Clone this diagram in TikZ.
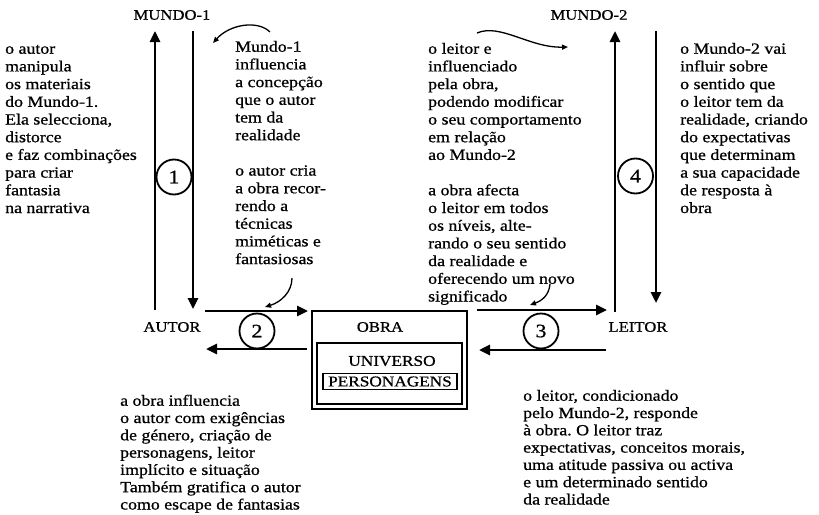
\documentclass[tikz,border=0pt]{standalone}
\usepackage{fontspec}
\setmainfont{Liberation Serif}[FakeStretch=1.15, FakeBold=0.8]
\usetikzlibrary{arrows.meta}
\frenchspacing
\begin{document}
\begin{tikzpicture}[x=1pt,y=-1pt,
  txt/.style={anchor=north west, inner sep=0pt, align=left, font=\fontsize{15.5}{17.7}\selectfont},
  txtb/.style={anchor=north west, inner sep=0pt, align=left, font=\fontsize{15.5}{17.3}\selectfont},
  lab/.style={inner sep=0pt, font=\fontsize{14.5}{17}\selectfont},
  bigarrow/.style={line width=2.6pt, -{Triangle[length=11pt,width=10pt]}},
  curvearrow/.style={line width=1.3pt, -{Triangle[length=6pt,width=5pt]}},
  circ/.style={circle, draw, line width=1.8pt, minimum size=35pt, inner sep=0pt, font=\fontsize{19}{19}\selectfont},
  boxo/.style={draw, line width=1.4pt, inner sep=0pt}
]
\useasboundingbox (0,0) rectangle (819,514);

% labels
\node[lab] (m1) at (172,15) {MUNDO-1};
\node[lab] (m2) at (589,15) {MUNDO-2};
\node[lab] (autor) at (172,327) {AUTOR};
\node[lab] (leitor) at (638,327) {LEITOR};

% OBRA box
\node[boxo, minimum width=155pt, minimum height=98pt] (obra) at (389.5,360) {};
\node[lab] (obralab) at (380,327) {OBRA};
\node[boxo, minimum width=145pt, minimum height=61pt] (univ) at (389.5,373.5) {};
\node[lab, font=\fontsize{15}{17}\selectfont] (univlab) at (392,361) {UNIVERSO};
\node[boxo, line width=1.2pt, minimum width=134pt, minimum height=16pt, font=\fontsize{15}{17}\selectfont] (pers) at (390,381.5) {PERSONAGENS};

% coordinates for arrow ends
\coordinate (l1b) at (155,310);
\coordinate (l1t) at (155,31);
\coordinate (r1t) at (193,31);
\coordinate (r1b) at (193,309);
\coordinate (l2b) at (615,312);
\coordinate (l2t) at (615,31);
\coordinate (r2t) at (656,31);
\coordinate (r2b) at (656,303);
\coordinate (aos) at (205,311);
\coordinate (aoe) at (308,311);
\coordinate (oas) at (307,349);
\coordinate (oae) at (206,349);
\coordinate (ols) at (477,310);
\coordinate (ole) at (607,310);
\coordinate (los) at (606,350);
\coordinate (loe) at (479,350);

% vertical arrows
\draw[bigarrow] (l1b) -- (l1t);
\draw[bigarrow] (r1t) -- (r1b);
\draw[bigarrow] (l2b) -- (l2t);
\draw[bigarrow] (r2t) -- (r2b);
% horizontal arrows
\draw[bigarrow] (aos) -- (aoe);
\draw[bigarrow] (oas) -- (oae);
\draw[bigarrow] (ols) -- (ole);
\draw[bigarrow] (los) -- (loe);

% circles
\node[circ, fill=white] (n1) at (174,177) {1};
\node[circ, fill=white] (n2) at (257,331) {2};
\node[circ, fill=white] (n3) at (541,331) {3};
\node[circ, fill=white] (n4) at (635.5,176) {4};

% curved arrows
\coordinate (c1s) at (270,32);
\coordinate (c1e) at (213,43);
\draw[curvearrow] (c1s) .. controls (258,20) and (230,24) .. (c1e);
\coordinate (c2s) at (292,278);
\coordinate (c2e) at (265,307);
\draw[curvearrow] (c2s) .. controls (292,292) and (281,302) .. (c2e);
\coordinate (c3s) at (477,33);
\coordinate (c3e) at (568,47);
\draw[curvearrow] (c3s) .. controls (500,23) and (530,48) .. (c3e);
\coordinate (c4s) at (550,284);
\coordinate (c4e) at (530,305);
\draw[curvearrow] (c4s) .. controls (549,296) and (541,301) .. (c4e);

% text blocks
\node[txt] (t1) at (5,41.5) {\rule{0pt}{12pt}o autor\\ manipula\\ os materiais\\ do Mundo-1.\\ Ela selecciona,\\ distorce\\ e faz combinações\\ para criar\\ fantasia\\ na narrativa};
\node[txt] (t2) at (235,39.5) {\rule{0pt}{12pt}Mundo-1\\ influencia\\ a concepção\\ que o autor\\ tem da\\ realidade\\[17.7pt] o autor cria\\ a obra recor-\\ rendo a\\ técnicas\\ miméticas e\\ fantasiosas};
\node[txt] (t3) at (428,41.5) {\rule{0pt}{12pt}o leitor e\\ influenciado\\ pela obra,\\ podendo modificar\\ o seu comportamento\\ em relação\\ ao Mundo-2\\[17.7pt] a obra afecta\\ o leitor em todos\\ os níveis, alte-\\ rando o seu sentido\\ da realidade e\\ oferecendo um novo\\ significado};
\node[txt] (t4) at (680,41.5) {\rule{0pt}{12pt}o Mundo-2 vai\\ influir sobre\\ o sentido que\\ o leitor tem da\\ realidade, criando\\ do expectativas\\ que determinam\\ a sua capacidade\\ de resposta à\\ obra};
\node[txtb] (t5) at (120,393.5) {\rule{0pt}{12pt}a obra influencia\\ o autor com exigências\\ de género, criação de\\ personagens, leitor\\ implícito e situação\\ Também gratifica o autor\\ como escape de fantasias};
\node[txtb] (t6) at (523,388.5) {\rule{0pt}{12pt}o leitor, condicionado\\ pelo Mundo-2, responde\\ à obra. O leitor traz\\ expectativas, conceitos morais,\\ uma atitude passiva ou activa\\ e um determinado sentido\\ da realidade};
\end{tikzpicture}
\end{document}
